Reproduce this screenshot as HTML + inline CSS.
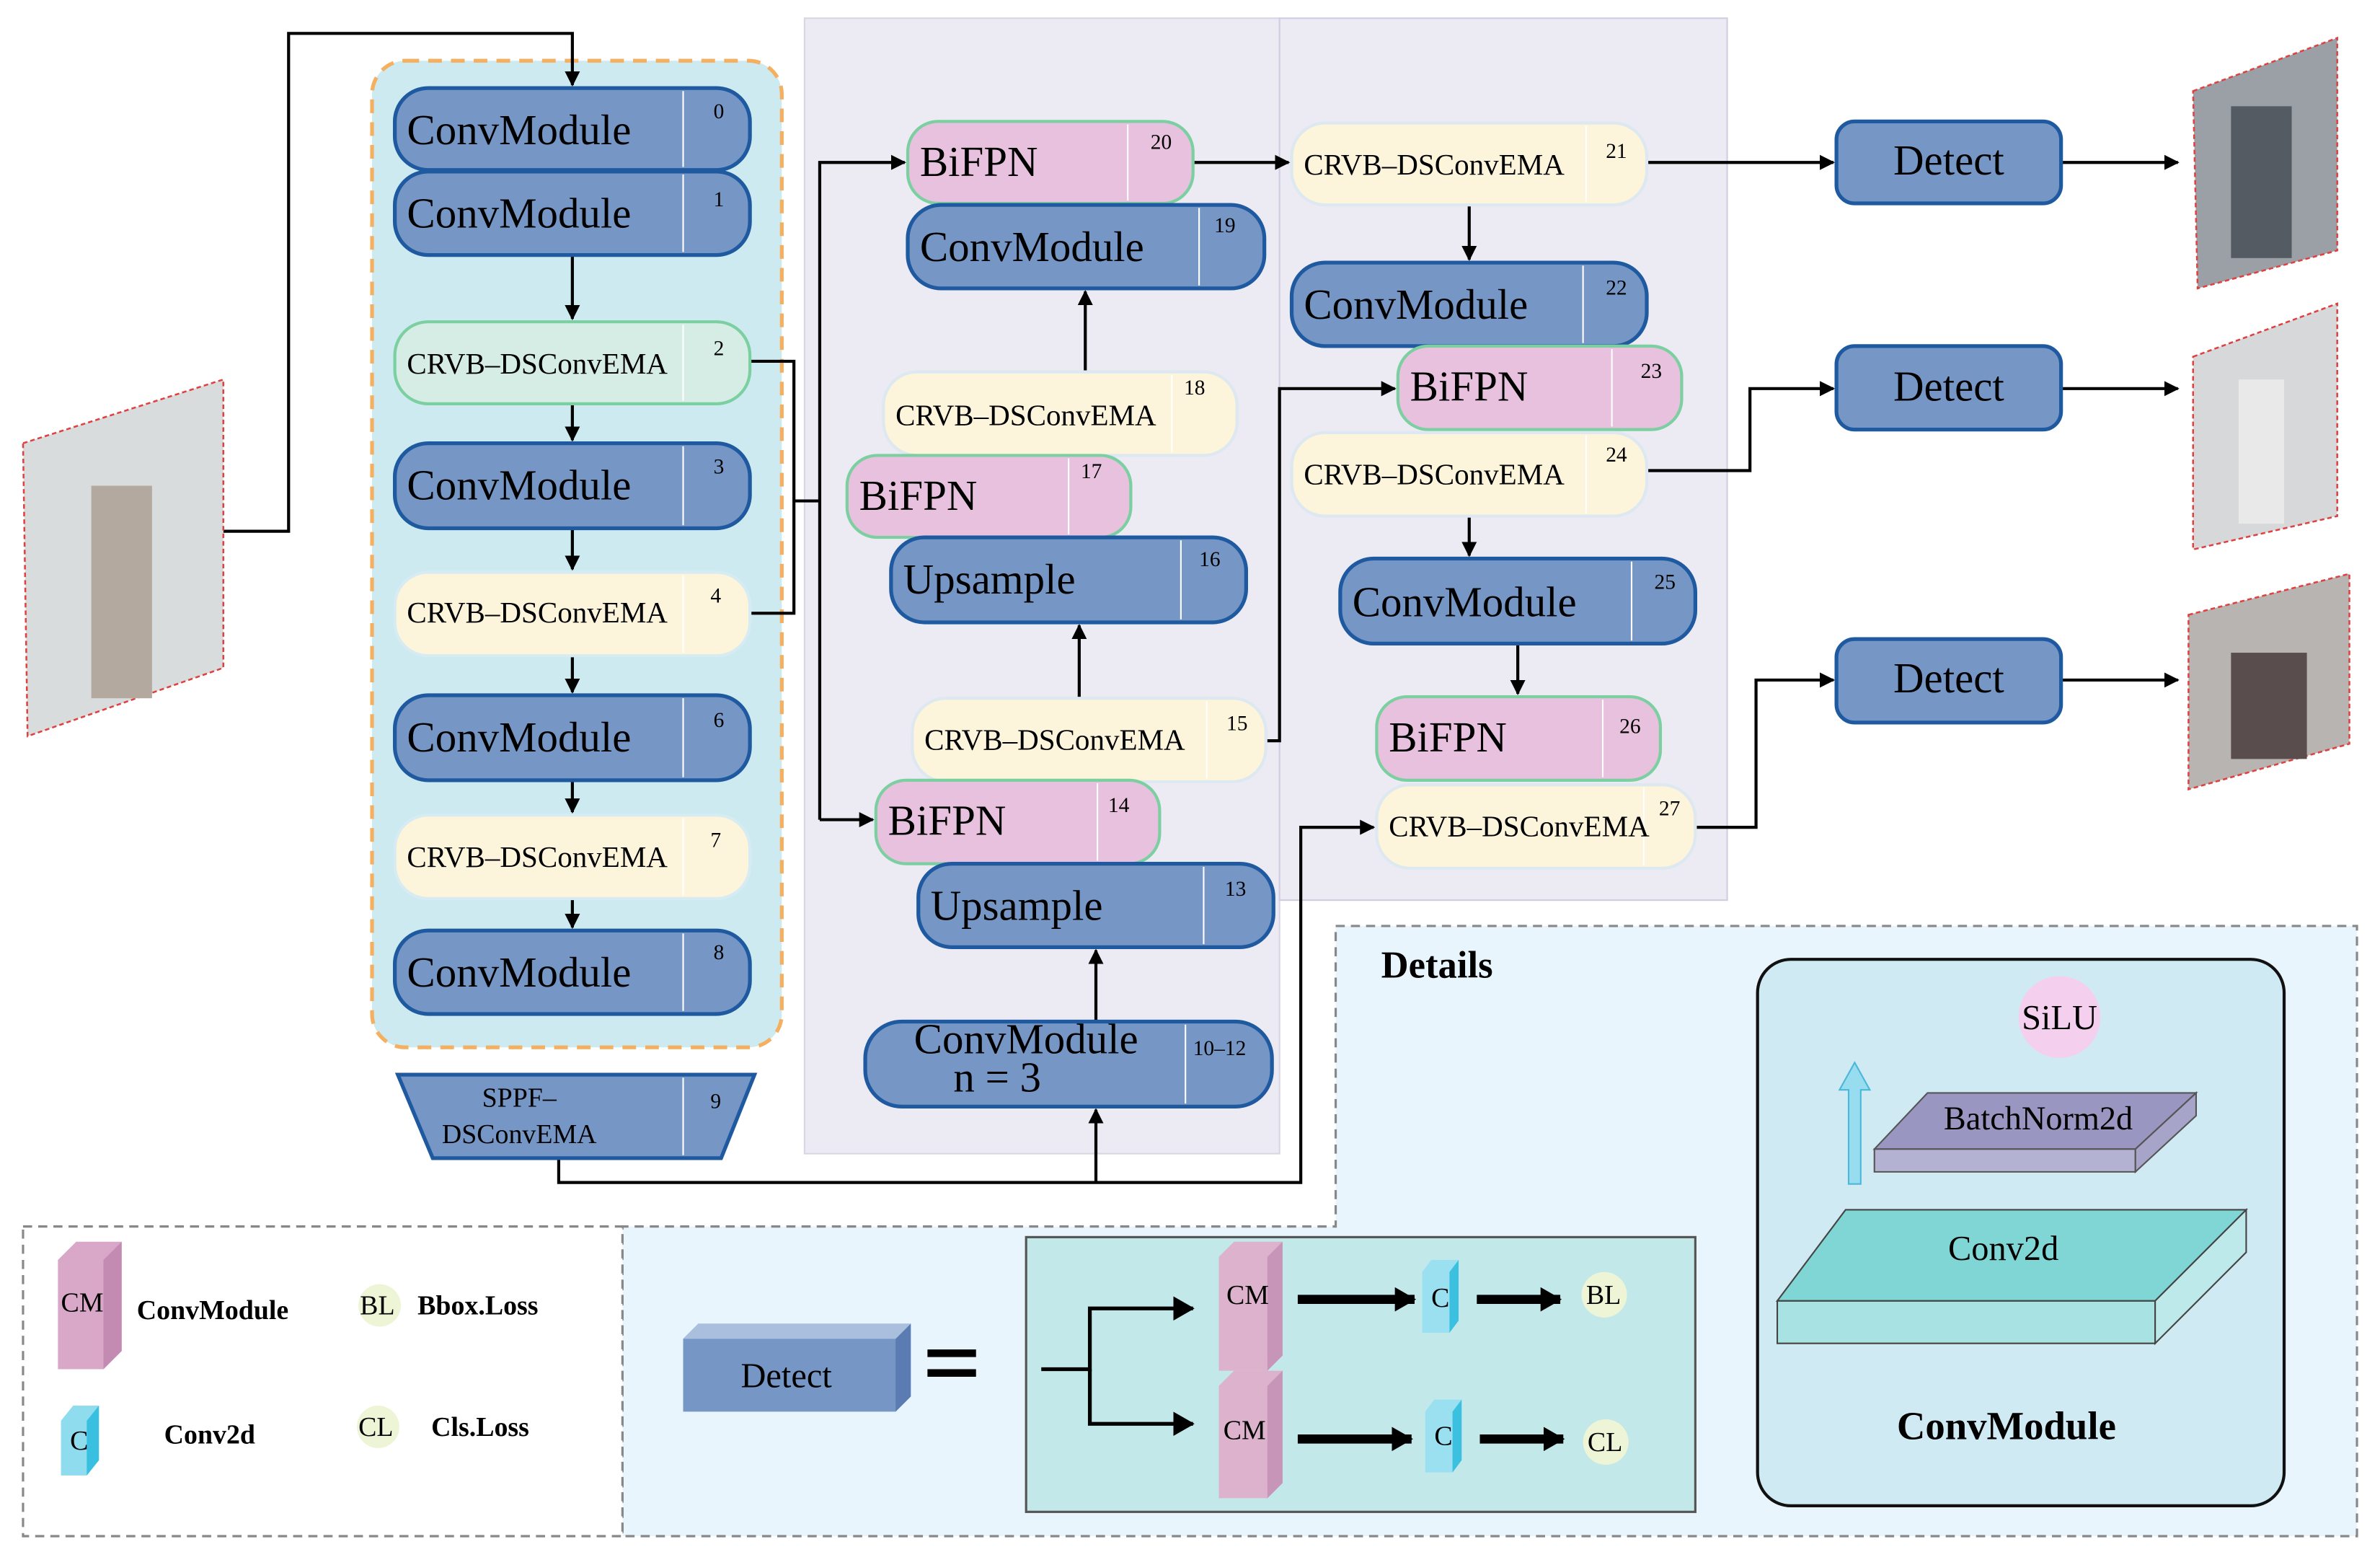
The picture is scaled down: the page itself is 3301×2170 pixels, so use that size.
<!DOCTYPE html>
<html><head><meta charset="utf-8"><style>
html,body{margin:0;padding:0;background:#fff}
svg{display:block}
text{font-family:"Liberation Serif",serif}
.s{font-size:19.5px}
</style></head><body>
<svg width="3301" height="2170" viewBox="0 0 1568 1031" xmlns="http://www.w3.org/2000/svg">
<defs>
<marker id="a" markerWidth="10" markerHeight="10" refX="9" refY="5" orient="auto" markerUnits="userSpaceOnUse"><path d="M0,0 L10,5 L0,10 z" fill="#000"/></marker>
<marker id="b" markerWidth="14" markerHeight="16" refX="13" refY="8" orient="auto" markerUnits="userSpaceOnUse"><path d="M0,0 L14,8 L0,16 z" fill="#000"/></marker>
</defs>
<rect width="1568" height="1031" fill="#fff"/>
<rect x="530" y="12" width="313" height="748" fill="#ecebf4" stroke="#d8d6e4"/>
<rect x="843" y="12" width="295" height="581" fill="#ecebf4" stroke="#d0cde0"/>
<rect x="245" y="40" width="270" height="650" rx="22" fill="#cdeaf1" stroke="#f4b060" stroke-width="2.5" stroke-dasharray="9,6"/>
<path d="M880,610 H1553 V1012 H410 V808 H880 Z" fill="#e8f5fc" stroke="#888" stroke-width="1.5" stroke-dasharray="6,4"/>
<rect x="15" y="808" width="395" height="204" fill="#fff" stroke="#888" stroke-width="1.5" stroke-dasharray="6,4"/>

<g stroke="#000" stroke-width="2" fill="none">
<path d="M147,350 H190 V22 H377 V56" marker-end="url(#a)"/>
<path d="M377,168 V210" marker-end="url(#a)"/>
<path d="M377,266 V290" marker-end="url(#a)"/>
<path d="M377,348 V375" marker-end="url(#a)"/>
<path d="M377,432 V456" marker-end="url(#a)"/>
<path d="M377,514 V535" marker-end="url(#a)"/>
<path d="M377,592 V611" marker-end="url(#a)"/>
<path d="M494,238 H523 V404 H494"/>
<path d="M523,330 H540"/>
<path d="M540,540 V107 H596" marker-end="url(#a)"/>
<path d="M540,540 H575" marker-end="url(#a)"/>
<path d="M715,245 V192" marker-end="url(#a)"/>
<path d="M711,460 V412" marker-end="url(#a)"/>
<path d="M722,673 V626" marker-end="url(#a)"/>
<path d="M368,763 V779 H857 V545 H905" marker-end="url(#a)"/>
<path d="M722,779 V731" marker-end="url(#a)"/>
<path d="M786,107 H849" marker-end="url(#a)"/>
<path d="M968,135 V171" marker-end="url(#a)"/>
<path d="M834,488 H843 V256 H919" marker-end="url(#a)"/>
<path d="M968,340 V366" marker-end="url(#a)"/>
<path d="M1000,424 V457" marker-end="url(#a)"/>
<path d="M1085,107 H1208" marker-end="url(#a)"/>
<path d="M1085,310 H1153 V256 H1208" marker-end="url(#a)"/>
<path d="M1117,545 H1157 V448 H1208" marker-end="url(#a)"/>
<path d="M1358,107 H1435" marker-end="url(#a)"/>
<path d="M1358,256 H1435" marker-end="url(#a)"/>
<path d="M1358,448 H1435" marker-end="url(#a)"/>
</g>

<g font-size="28">
<g><rect x="260" y="58" width="234" height="54" rx="22" fill="#7697c6" stroke="#1f5aa0" stroke-width="2.5"/><line x1="450" y1="60" x2="450" y2="110" stroke="#fff"/><text x="268" y="95">ConvModule</text><text x="470" y="78" font-size="14">0</text></g>
<g><rect x="260" y="113" width="234" height="55" rx="22" fill="#7697c6" stroke="#1f5aa0" stroke-width="2.5"/><line x1="450" y1="115" x2="450" y2="166" stroke="#fff"/><text x="268" y="150">ConvModule</text><text x="470" y="136" font-size="14">1</text></g>
<g><rect x="260" y="212" width="234" height="54" rx="22" fill="#d6ede6" stroke="#7ccfa0" stroke-width="2"/><line x1="450" y1="214" x2="450" y2="264" stroke="#fff"/><text x="268" y="246" class="s">CRVB–DSConvEMA</text><text x="470" y="234" font-size="14">2</text></g>
<g><rect x="260" y="292" width="234" height="56" rx="22" fill="#7697c6" stroke="#1f5aa0" stroke-width="2.5"/><line x1="450" y1="294" x2="450" y2="346" stroke="#fff"/><text x="268" y="329">ConvModule</text><text x="470" y="312" font-size="14">3</text></g>
<g><rect x="260" y="377" width="234" height="55" rx="22" fill="#fdf4dc" stroke="#d6ecf2" stroke-width="2"/><line x1="450" y1="379" x2="450" y2="430" stroke="#fff"/><text x="268" y="410" class="s">CRVB–DSConvEMA</text><text x="468" y="397" font-size="14">4</text></g>
<g><rect x="260" y="458" width="234" height="56" rx="22" fill="#7697c6" stroke="#1f5aa0" stroke-width="2.5"/><line x1="450" y1="460" x2="450" y2="512" stroke="#fff"/><text x="268" y="495">ConvModule</text><text x="470" y="479" font-size="14">6</text></g>
<g><rect x="260" y="537" width="234" height="55" rx="22" fill="#fdf4dc" stroke="#d6ecf2" stroke-width="2"/><line x1="450" y1="539" x2="450" y2="590" stroke="#fff"/><text x="268" y="571" class="s">CRVB–DSConvEMA</text><text x="468" y="558" font-size="14">7</text></g>
<g><rect x="260" y="613" width="234" height="55" rx="22" fill="#7697c6" stroke="#1f5aa0" stroke-width="2.5"/><line x1="450" y1="615" x2="450" y2="666" stroke="#fff"/><text x="268" y="650">ConvModule</text><text x="470" y="632" font-size="14">8</text></g>
<g><path d="M262,708 H497 L475,763 H285 Z" fill="#7697c6" stroke="#1f5aa0" stroke-width="2.5"/><line x1="450" y1="710" x2="450" y2="761" stroke="#fff"/><text x="342" y="729" font-size="18" text-anchor="middle">SPPF–</text><text x="342" y="753" font-size="18" text-anchor="middle">DSConvEMA</text><text x="468" y="730" font-size="14">9</text></g>

<g><rect x="598" y="80" width="188" height="54" rx="20" fill="#e7c1dd" stroke="#7ccfa0" stroke-width="2"/><line x1="743" y1="82" x2="743" y2="132" stroke="#fff"/><text x="606" y="116">BiFPN</text><text x="758" y="98" font-size="14">20</text></g>
<g><rect x="598" y="135" width="235" height="55" rx="22" fill="#7697c6" stroke="#1f5aa0" stroke-width="2.5"/><line x1="790" y1="137" x2="790" y2="188" stroke="#fff"/><text x="606" y="172">ConvModule</text><text x="800" y="153" font-size="14">19</text></g>
<g><rect x="582" y="245" width="233" height="55" rx="22" fill="#fdf4dc" stroke="#dde8f0" stroke-width="2"/><line x1="772" y1="247" x2="772" y2="298" stroke="#fff"/><text x="590" y="280" class="s">CRVB–DSConvEMA</text><text x="780" y="260" font-size="14">18</text></g>
<g><rect x="558" y="300" width="187" height="54" rx="20" fill="#e7c1dd" stroke="#7ccfa0" stroke-width="2"/><line x1="704" y1="302" x2="704" y2="352" stroke="#fff"/><text x="566" y="336">BiFPN</text><text x="712" y="315" font-size="14">17</text></g>
<g><rect x="587" y="354" width="234" height="56" rx="22" fill="#7697c6" stroke="#1f5aa0" stroke-width="2.5"/><line x1="778" y1="356" x2="778" y2="408" stroke="#fff"/><text x="595" y="391">Upsample</text><text x="790" y="373" font-size="14">16</text></g>
<g><rect x="601" y="460" width="233" height="55" rx="22" fill="#fdf4dc" stroke="#dde8f0" stroke-width="2"/><line x1="795" y1="462" x2="795" y2="513" stroke="#fff"/><text x="609" y="494" class="s">CRVB–DSConvEMA</text><text x="808" y="481" font-size="14">15</text></g>
<g><rect x="577" y="514" width="187" height="55" rx="20" fill="#e7c1dd" stroke="#7ccfa0" stroke-width="2"/><line x1="723" y1="516" x2="723" y2="567" stroke="#fff"/><text x="585" y="550">BiFPN</text><text x="730" y="535" font-size="14">14</text></g>
<g><rect x="605" y="569" width="234" height="55" rx="22" fill="#7697c6" stroke="#1f5aa0" stroke-width="2.5"/><line x1="793" y1="571" x2="793" y2="622" stroke="#fff"/><text x="613" y="606">Upsample</text><text x="807" y="590" font-size="14">13</text></g>
<g><rect x="570" y="673" width="268" height="56" rx="24" fill="#7697c6" stroke="#1f5aa0" stroke-width="2.5"/><line x1="781" y1="675" x2="781" y2="727" stroke="#fff"/><text x="676" y="694" text-anchor="middle">ConvModule</text><text x="657" y="719" text-anchor="middle">n = 3</text><text x="786" y="695" font-size="14">10–12</text></g>

<g><rect x="851" y="81" width="234" height="54" rx="22" fill="#fdf4dc" stroke="#dde8f0" stroke-width="2"/><line x1="1045" y1="83" x2="1045" y2="133" stroke="#fff"/><text x="859" y="115" class="s">CRVB–DSConvEMA</text><text x="1058" y="104" font-size="14">21</text></g>
<g><rect x="851" y="173" width="234" height="55" rx="22" fill="#7697c6" stroke="#1f5aa0" stroke-width="2.5"/><line x1="1043" y1="175" x2="1043" y2="226" stroke="#fff"/><text x="859" y="210">ConvModule</text><text x="1058" y="194" font-size="14">22</text></g>
<g><rect x="921" y="228" width="187" height="55" rx="20" fill="#e7c1dd" stroke="#7ccfa0" stroke-width="2"/><line x1="1062" y1="230" x2="1062" y2="281" stroke="#fff"/><text x="929" y="264">BiFPN</text><text x="1081" y="249" font-size="14">23</text></g>
<g><rect x="851" y="285" width="234" height="55" rx="22" fill="#fdf4dc" stroke="#dde8f0" stroke-width="2"/><line x1="1045" y1="287" x2="1045" y2="338" stroke="#fff"/><text x="859" y="319" class="s">CRVB–DSConvEMA</text><text x="1058" y="304" font-size="14">24</text></g>
<g><rect x="883" y="368" width="234" height="56" rx="22" fill="#7697c6" stroke="#1f5aa0" stroke-width="2.5"/><line x1="1075" y1="370" x2="1075" y2="422" stroke="#fff"/><text x="891" y="406">ConvModule</text><text x="1090" y="388" font-size="14">25</text></g>
<g><rect x="907" y="459" width="187" height="55" rx="20" fill="#e7c1dd" stroke="#7ccfa0" stroke-width="2"/><line x1="1056" y1="461" x2="1056" y2="512" stroke="#fff"/><text x="915" y="495">BiFPN</text><text x="1067" y="483" font-size="14">26</text></g>
<g><rect x="907" y="517" width="210" height="55" rx="22" fill="#fdf4dc" stroke="#dde8f0" stroke-width="2"/><line x1="1083" y1="519" x2="1083" y2="570" stroke="#fff"/><text x="915" y="551" class="s">CRVB–DSConvEMA</text><text x="1093" y="537" font-size="14">27</text></g>

<g><rect x="1210" y="80" width="148" height="54" rx="12" fill="#7697c6" stroke="#1f5aa0" stroke-width="2.5"/><text x="1284" y="115" text-anchor="middle">Detect</text></g>
<g><rect x="1210" y="228" width="148" height="55" rx="12" fill="#7697c6" stroke="#1f5aa0" stroke-width="2.5"/><text x="1284" y="264" text-anchor="middle">Detect</text></g>
<g><rect x="1210" y="421" width="148" height="55" rx="12" fill="#7697c6" stroke="#1f5aa0" stroke-width="2.5"/><text x="1284" y="456" text-anchor="middle">Detect</text></g>
</g>

<g stroke="#e04040" stroke-width="1.2" stroke-dasharray="3,2">
<path d="M15,292 L147,250 L147,440 L18,485 Z" fill="#d9dcdc"/>
<path d="M1445,60 L1540,25 L1540,165 L1448,190 Z" fill="#9aa0a6"/>
<path d="M1445,235 L1540,200 L1540,340 L1445,362 Z" fill="#d6d8da"/>
<path d="M1442,405 L1548,378 L1548,490 L1442,520 Z" fill="#b8b4b2"/>
</g>
<rect x="60" y="320" width="40" height="140" fill="#b3a99e"/>
<rect x="1470" y="70" width="40" height="100" fill="#555b62"/>
<rect x="1475" y="250" width="30" height="95" fill="#e9e9e9"/>
<rect x="1470" y="430" width="50" height="70" fill="#5a4d4d"/>

<g font-weight="bold" font-size="18">
<path d="M38,830 L50,818 H80 V890 L68,902 H38 Z" fill="#d9a8c8"/><path d="M68,830 L80,818 V890 L68,902 Z" fill="#c48bb2"/>
<text x="40" y="864" font-weight="normal">CM</text><text x="90" y="869">ConvModule</text>
<path d="M40,936 L48,926 H65 V962 L57,972 H40 Z" fill="#8fdcef"/><path d="M57,936 L65,926 V962 L57,972 Z" fill="#39bfe0"/>
<text x="46" y="955" font-weight="normal">C</text><text x="108" y="951">Conv2d</text>
<circle cx="250" cy="860" r="14" fill="#eef5d6"/><text x="237" y="866" font-weight="normal">BL</text><text x="275" y="866">Bbox.Loss</text>
<circle cx="249" cy="940" r="14" fill="#eef5d6"/><text x="236" y="946" font-weight="normal">CL</text><text x="284" y="946">Cls.Loss</text>
</g>

<text x="910" y="644" font-size="25" font-weight="bold">Details</text>
<path d="M450,882 L460,872 H600 V920 L590,930 H450 Z" fill="#7697c6"/><path d="M590,882 L600,872 V920 L590,930 Z" fill="#5a7cb2"/><path d="M450,882 L460,872 H600 L590,882 Z" fill="#a9bfdd"/>
<text x="518" y="914" font-size="23" text-anchor="middle">Detect</text>
<rect x="611" y="889" width="32" height="5" fill="#000"/><rect x="611" y="902" width="32" height="5" fill="#000"/>
<rect x="676" y="815" width="441" height="181" fill="#c2e8ea" stroke="#555" stroke-width="1.5"/>
<g stroke="#000" stroke-width="2.5" fill="none">
<path d="M686,902 H718 V862 H786" marker-end="url(#b)"/><path d="M718,902 V938 H786" marker-end="url(#b)"/>
</g>
<g stroke="#000" stroke-width="6" fill="none">
<path d="M855,856 H932" marker-end="url(#b)"/><path d="M855,948 H930" marker-end="url(#b)"/>
<path d="M973,856 H1028" marker-end="url(#b)"/><path d="M975,948 H1030" marker-end="url(#b)"/>
</g>
<g font-size="18">
<path d="M803,828 L813,818 H845 V893 L835,903 H803 Z" fill="#dcb2cc"/><path d="M835,828 L845,818 V893 L835,903 Z" fill="#c795b8"/><text x="808" y="859">CM</text>
<path d="M803,913 L813,903 H845 V977 L835,987 H803 Z" fill="#dcb2cc"/><path d="M835,913 L845,903 V977 L835,987 Z" fill="#c795b8"/><text x="806" y="948">CM</text>
<path d="M937,838 L943,830 H961 V870 L955,878 H937 Z" fill="#9ae0f0"/><path d="M955,838 L961,830 V870 L955,878 Z" fill="#3cc0e0"/><text x="943" y="861">C</text>
<path d="M939,930 L945,922 H963 V962 L957,970 H939 Z" fill="#9ae0f0"/><path d="M957,930 L963,922 V962 L957,970 Z" fill="#3cc0e0"/><text x="945" y="952">C</text>
<circle cx="1057" cy="853" r="15" fill="#eef5d6"/><text x="1045" y="859">BL</text>
<circle cx="1058" cy="950" r="15" fill="#eef5d6"/><text x="1046" y="956">CL</text>
</g>

<rect x="1158" y="632" width="347" height="360" rx="22" fill="#d0eaf4" stroke="#111" stroke-width="2"/>
<circle cx="1357" cy="670" r="27" fill="#f5d0ee"/><text x="1357" y="678" font-size="23" text-anchor="middle">SiLU</text>
<path d="M1218,780 V718 H1212 L1222,700 L1232,718 H1226 V780 Z" fill="#98dcf0" stroke="#4ab8d8"/>
<path d="M1235,757 L1270,720 H1447 L1407,757 Z" fill="#9a96c2" stroke="#555"/><path d="M1235,757 H1407 V772 H1235 Z" fill="#b4b2d2" stroke="#555"/><path d="M1407,757 L1447,720 V735 L1407,772 Z" fill="#a6a4c8" stroke="#555"/>
<text x="1343" y="744" font-size="22" text-anchor="middle">BatchNorm2d</text>
<path d="M1171,857 L1216,797 H1480 L1420,857 Z" fill="#7fd6d4" stroke="#444"/><path d="M1171,857 H1420 V885 H1171 Z" fill="#a8e2e2" stroke="#444"/><path d="M1420,857 L1480,797 V825 L1420,885 Z" fill="#bde9ea" stroke="#444"/>
<text x="1320" y="830" font-size="23" text-anchor="middle">Conv2d</text>
<text x="1322" y="948" font-size="26" font-weight="bold" text-anchor="middle">ConvModule</text>
</svg>
</body></html>
